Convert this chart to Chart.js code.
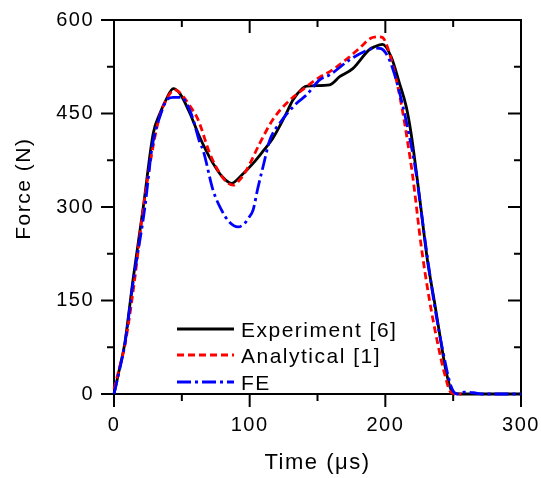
<!DOCTYPE html>
<html><head><meta charset="utf-8">
<script src="https://cdn.jsdelivr.net/npm/chart.js@4.4.0/dist/chart.umd.min.js"></script>
<style>html,body{margin:0;padding:0;background:#fff;}#wrap{width:541px;height:478px;}</style>
</head><body><div id="wrap"><canvas id="c" width="541" height="478"></canvas></div>
<script>
// ---- data (time in µs, force in N) ----
const seriesNames = ['Experiment [6]', 'Analytical [1]', 'FE'];
const expTime  = [0, 4, 8, 14, 21.6, 28.9, 33.8, 38.8, 43.6, 48.6, 56, 62, 68, 73, 80, 86.6, 94, 102.5, 110, 117, 125.8, 132, 138.8, 142, 159, 166.3, 176, 188, 192, 198, 204.3, 210.5, 215.4, 219, 222.7, 226.4, 231, 236.2, 241.1, 244.8, 249.7, 255, 300];
const expForce = [0, 40, 82, 183, 300, 418, 450, 474, 490, 482, 450, 418, 390, 370, 348, 338, 351, 370, 390, 410, 445, 472, 490, 494, 496, 509, 522, 552, 557, 561, 541, 498, 461, 418, 359, 295, 215, 148, 82, 36, 2, 0, 0];
const anaTime  = [0, 4, 8, 15, 21, 27, 33, 39, 44.9, 52.2, 56, 62, 70.6, 78, 83, 87.8, 92, 97.6, 107.4, 117, 127, 141.8, 150, 161, 172, 181, 189.6, 195.7, 198, 203, 209.2, 213, 216.6, 220.2, 226.4, 232.5, 238.6, 243.6, 248.5, 252, 256];
const anaForce = [8, 42, 78, 180, 288, 375, 440, 474, 488, 474, 462, 440, 386, 354, 340, 335, 342, 359, 402, 440, 466, 493, 506, 520, 538, 555, 571, 573, 572, 547, 493, 450, 402, 349, 238, 151, 81, 33, 2, 0, 0];
const feTime   = [0, 4, 8, 14, 22.8, 28, 33.8, 40, 43.6, 49.6, 54.7, 58.4, 63.3, 65.7, 73, 79.3, 85, 91.5, 96, 99, 102.5, 106, 109.9, 114.8, 122, 134.4, 142, 151.6, 159, 173.7, 185, 193.3, 197, 203, 208, 213, 217.8, 222.7, 226.4, 230, 236.2, 242.3, 248.5, 253, 258, 265, 272, 300];
const feForce  = [0, 38, 80, 178, 300, 395, 445, 474, 476, 476, 461, 440, 403, 391, 327, 295, 276, 268, 273, 282, 295, 330, 365, 407, 434, 466, 480, 504, 512, 536, 550, 555, 554, 536, 504, 461, 413, 354, 294, 235, 143, 70, 12, 0, 3, 2, 0, 0];
const xTickLabels = [0, 100, 200, 300];
const xMinorTicks = [50, 150, 250];
const yTickLabels = [0, 150, 300, 450, 600];
const yMinorTicks = [75, 225, 375, 525];

const pts = (t, f) => t.map((v, i) => ({x: v, y: f[i]}));
const FONT = '"Liberation Sans", Arial, sans-serif';
const LS = '1.5px';

const spacing = {
  id: 'spacing',
  beforeLayout(chart) { chart.ctx.letterSpacing = LS; },
  beforeDraw(chart) { chart.ctx.letterSpacing = LS; }
};

const frameTicks = {
  id: 'frameTicks',
  beforeDatasetsDraw(chart) {
    const {ctx, chartArea: a, scales: {x, y}} = chart;
    ctx.save();
    ctx.strokeStyle = '#000'; ctx.lineWidth = 2; ctx.setLineDash([]);
    ctx.strokeRect(a.left, a.top, a.right - a.left, a.bottom - a.top);
    const seg = (x1, y1, x2, y2) => { ctx.beginPath(); ctx.moveTo(x1, y1); ctx.lineTo(x2, y2); ctx.stroke(); };
    const xs = [...xTickLabels.map(v => [v, 13]), ...xMinorTicks.map(v => [v, 7])];
    xs.forEach(([v, L]) => { const p = x.getPixelForValue(v); seg(p, a.bottom, p, a.bottom + L); seg(p, a.top, p, a.top + L); });
    const ys = [...yTickLabels.map(v => [v, 13]), ...yMinorTicks.map(v => [v, 7])];
    ys.forEach(([v, L]) => { const p = y.getPixelForValue(v); seg(a.left - L, p, a.left, p); seg(a.right - L, p, a.right, p); });
    ctx.restore();
  }
};

const legendIn = {
  id: 'legendIn',
  afterDraw(chart) {
    const {ctx, chartArea: a} = chart;
    ctx.save();
    const rows = [a.bottom - 65, a.bottom - 39, a.bottom - 12];
    chart.data.datasets.forEach((ds, i) => {
      const yy = rows[i];
      ctx.strokeStyle = ds.borderColor; ctx.lineWidth = ds.borderWidth;
      ctx.setLineDash(ds.borderDash || []);
      ctx.beginPath(); ctx.moveTo(a.left + 63, yy); ctx.lineTo(a.left + 120, yy); ctx.stroke();
      ctx.setLineDash([]);
      ctx.fillStyle = '#000'; ctx.font = '21px ' + FONT;
      ctx.letterSpacing = LS;
      ctx.textAlign = 'left'; ctx.textBaseline = 'alphabetic';
      ctx.fillText(seriesNames[i], a.left + 127, yy + 7.5);
    });
    ctx.restore();
  }
};

new Chart(document.getElementById('c'), {
  type: 'line',
  data: {
    datasets: [
      {label: seriesNames[0], data: pts(expTime, expForce), borderColor: '#000000', borderWidth: 2.8, order: 2},
      {label: seriesNames[1], data: pts(anaTime, anaForce), borderColor: '#ff0000', borderWidth: 2.8, borderDash: [7, 4], order: 1},
      {label: seriesNames[2], data: pts(feTime, feForce), borderColor: '#0000ff', borderWidth: 2.8, borderDash: [14, 4, 3, 4], order: 0}
    ]
  },
  options: {
    responsive: false,
    animation: false,
    devicePixelRatio: 1,
    layout: {padding: {top: 20, right: 20, left: 0, bottom: 0}},
    elements: {point: {radius: 0}, line: {cubicInterpolationMode: 'monotone', fill: false}},
    datasets: {line: {clip: false}},
    plugins: {legend: {display: false}, tooltip: {enabled: false}},
    scales: {
      x: {
        type: 'linear', min: 0, max: 300,
        afterFit: s => { s.height = 84; s.paddingLeft = 0; s.paddingRight = 0; },
        afterBuildTicks: s => { s.ticks = xTickLabels.map(v => ({value: v})); },
        grid: {display: false, drawTicks: false},
        border: {display: false},
        ticks: {padding: 19, color: '#000', font: {family: FONT, size: 20}, maxRotation: 0, autoSkip: false},
        title: {display: true, text: 'Time (μs)', color: '#000', font: {family: FONT, size: 22}, padding: 2}
      },
      y: {
        type: 'linear', min: 0, max: 600,
        afterFit: s => { s.width = 114; s.paddingTop = 0; s.paddingBottom = 0; },
        afterBuildTicks: s => { s.ticks = yTickLabels.map(v => ({value: v})); },
        grid: {display: false, drawTicks: false},
        border: {display: false},
        ticks: {padding: 20, color: '#000', font: {family: FONT, size: 20}, autoSkip: false},
        title: {display: true, text: '     Force (N)', color: '#000', font: {family: FONT, size: 21}, padding: 12}
      }
    }
  },
  plugins: [spacing, frameTicks, legendIn]
});
</script></body></html>
